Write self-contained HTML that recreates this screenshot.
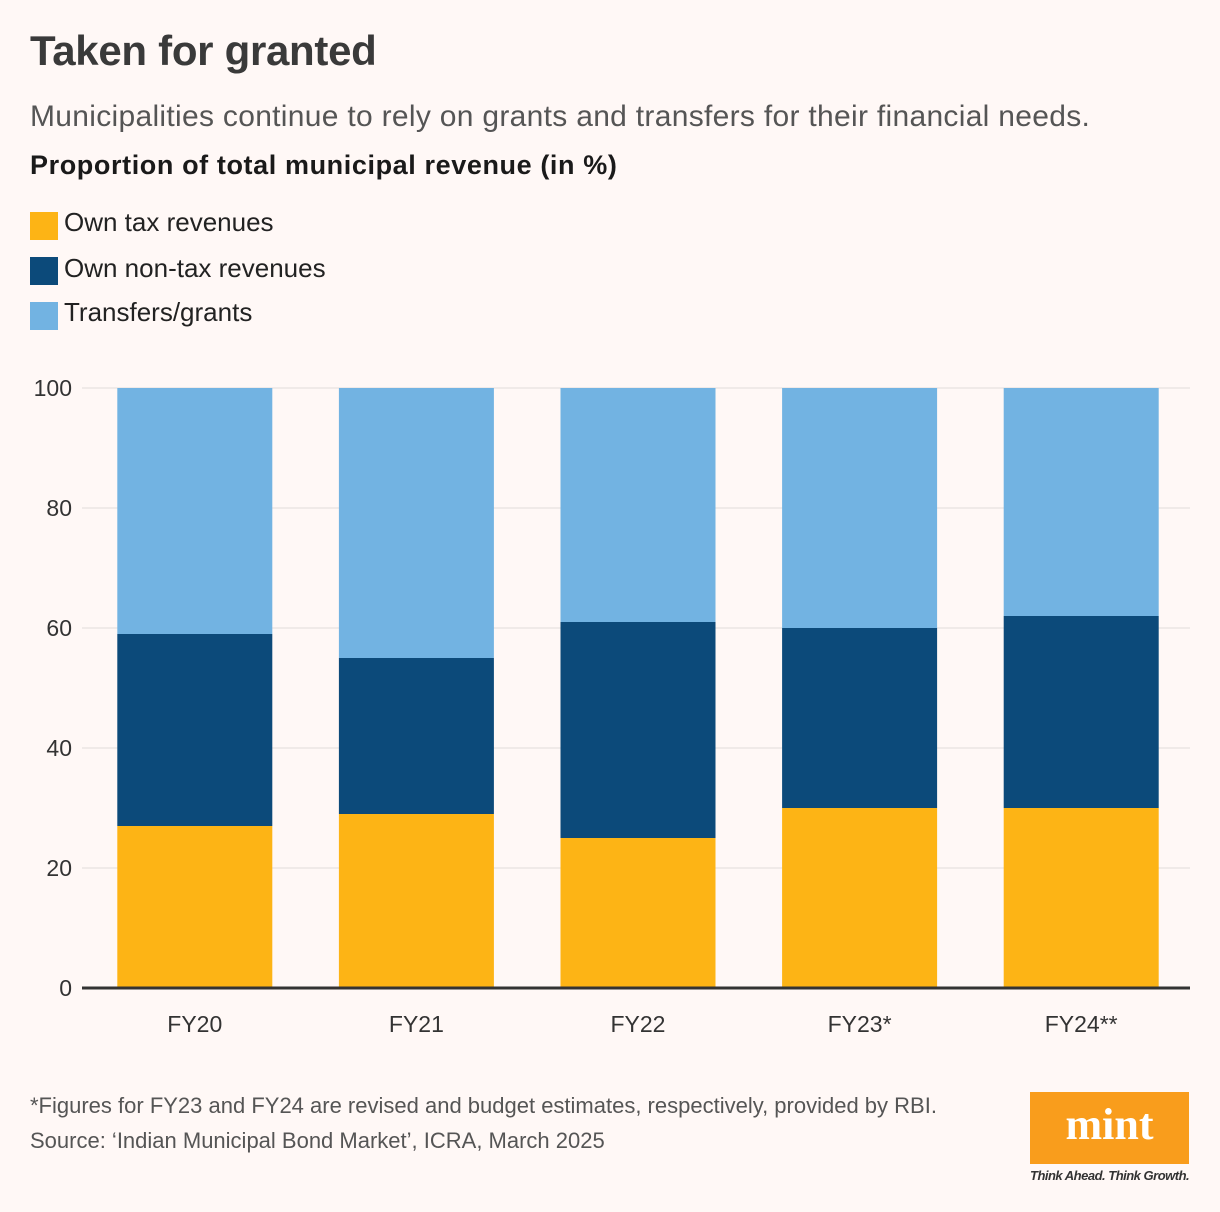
<!DOCTYPE html>
<html><head><meta charset="utf-8"><style>
html,body{margin:0;padding:0}
body{width:1220px;height:1212px;background:#fff8f6;position:relative;font-family:"Liberation Sans",sans-serif;overflow:hidden}
.t{position:absolute;white-space:nowrap}
.sw{position:absolute;left:30px;width:28px;height:28px}
</style></head><body>
<div class="t" style="left:30px;top:27px;font-size:42px;font-weight:bold;color:#3a3a3a;letter-spacing:-0.3px">Taken for granted</div>
<div class="t" style="left:30px;top:100px;font-size:30px;color:#555;letter-spacing:0.3px">Municipalities continue to rely on grants and transfers for their financial needs.</div>
<div class="t" style="left:30px;top:150px;font-size:27px;font-weight:bold;color:#1a1a1a;letter-spacing:0.6px">Proportion of total municipal revenue (in %)</div>
<div><div class="sw" style="top:212px;background:#fdb415"></div><div class="t" style="left:64px;top:207px;font-size:26px;color:#222">Own tax revenues</div></div>
<div><div class="sw" style="top:257px;background:#0c4a7a"></div><div class="t" style="left:64px;top:253px;font-size:26px;color:#222">Own non-tax revenues</div></div>
<div><div class="sw" style="top:302px;background:#72b3e2"></div><div class="t" style="left:64px;top:297px;font-size:26px;color:#222">Transfers/grants</div></div>
<svg id="chart" width="1220" height="1212" style="position:absolute;left:0;top:0" font-family="Liberation Sans, sans-serif"></svg>
<div class="t" style="left:30px;top:1093px;font-size:22px;color:#555">*Figures for FY23 and FY24 are revised and budget estimates, respectively, provided by RBI.</div>
<div class="t" style="left:30px;top:1128px;font-size:22px;color:#555">Source: ‘Indian Municipal Bond Market’, ICRA, March 2025</div>
<div style="position:absolute;left:1030px;top:1092px;width:159px;height:72px;background:#f99d1c;color:#fff;font-family:'Liberation Serif',serif;font-weight:bold;font-size:44px;text-align:center;line-height:66px">mint</div>
<div class="t" style="left:1030px;top:1168px;font-size:13px;font-style:italic;font-weight:bold;color:#333;letter-spacing:-0.5px">Think Ahead. Think Growth.</div>
<script>
const categories=["FY20","FY21","FY22","FY23*","FY24**"];
const ownTax=[27,29,25,30,30];
const ownNonTax=[32,26,36,30,32];
const transfers=[41,45,39,40,38];
const yTicks=[0,20,40,60,80,100];
const NS="http://www.w3.org/2000/svg";
const svg=document.getElementById('chart');
const x0=82,x1=1190,yBase=988,yTop=388;
const y=v=>yBase-(v/100)*(yBase-yTop);
const band=(x1-x0)/categories.length;
const bw=155;
const xc=i=>x0+band*(i+0.5)+2;
function mk(t,a){const e=document.createElementNS(NS,t);for(const k in a)e.setAttribute(k,a[k]);svg.appendChild(e);return e;}
yTicks.forEach(t=>{
 const l=mk('line',{x1:x0,x2:x1,y1:y(t),y2:y(t),stroke:'#e2dcda','stroke-width':1});
 
 
 const tx=mk('text',{x:72,y:y(t)+8,'text-anchor':'end','font-size':23,fill:'#333'});tx.textContent=t;
 
 
});
const series=[[ownTax,'#fdb415','own-tax'],[ownNonTax,'#0c4a7a','own-non-tax'],[transfers,'#72b3e2','transfers']];
categories.forEach((c,i)=>{
 let acc=0;
 series.forEach(([arr,col,nm])=>{
  const v=arr[i];
  const r=mk('rect',{x:xc(i)-bw/2,y:y(acc+v),width:bw,height:y(acc)-y(acc+v),fill:col});
  
  
  acc+=v;
 });
 const tx=mk('text',{x:xc(i),y:1032,'text-anchor':'middle','font-size':23,fill:'#333'});tx.textContent=c;
 
 
});
const ax=mk('line',{x1:x0,x2:x1,y1:yBase,y2:yBase,stroke:'#333','stroke-width':3});


</script>
</body></html>
